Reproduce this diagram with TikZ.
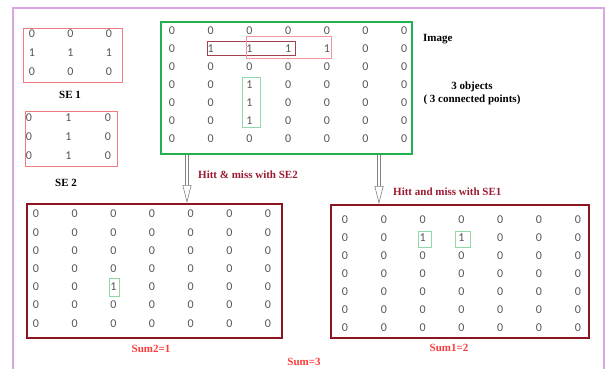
\documentclass[tikz,border=0pt]{standalone}
\usepackage{fontspec}
\setmainfont{Liberation Serif}
\newfontfamily\numfont{Carlito}
\usetikzlibrary{arrows.meta}

\definecolor{framepink}{HTML}{D9A6E3}
\definecolor{resred}{HTML}{8B1520}
\definecolor{rowred}{HTML}{A3404E}
\definecolor{labred}{HTML}{9B1B30}
\definecolor{sumred}{HTML}{FF3B3B}
\definecolor{sered}{HTML}{EE7C80}
\definecolor{imggreen}{HTML}{22B14C}
\definecolor{hitgreen}{HTML}{8FD9A8}
\definecolor{digit}{HTML}{555555}

\tikzset{
  num/.style={font=\numfont\fontsize{12}{12}\selectfont, text=digit, inner sep=0pt},
  lab/.style={font=\bfseries\fontsize{11}{13}\selectfont, inner sep=0pt},
  sebox/.style={draw=sered, line width=0.9pt, inner sep=0pt},
  resbox/.style={draw=resred, line width=2pt, inner sep=0pt},
  hollow/.style={draw=gray, line width=0.6pt, double=white, double distance=2.4pt,
    -{Triangle[open, length=18pt, width=9pt]}},
}

\begin{document}
\begin{tikzpicture}[x=1pt, y=-1pt]
  \useasboundingbox (0,0) rectangle (606,369);
  \draw[framepink, line width=1.3pt] (13,369) -- (13,8) -- (604,8) -- (604,369);

  % structuring elements
  \node[sebox, minimum width=99, minimum height=54] (se1) at (72.5,55) {};
  \foreach \row [count=\r] in {{0,0,0},{1,1,1},{0,0,0}}
    \foreach \v [count=\c] in \row
      \node[num] (se1-\r-\c) at ({32+38.5*(\c-1)},{34+19*(\r-1)}) {\v};
  \node[lab] (se1lab) at (70,95) {SE 1};

  \node[sebox, minimum width=92, minimum height=55] (se2) at (71,138.5) {};
  \foreach \row [count=\r] in {{0,1,0},{0,1,0},{0,1,0}}
    \foreach \v [count=\c] in \row
      \node[num] (se2-\r-\c) at ({29+39.5*(\c-1)},{118+19*(\r-1)}) {\v};
  \node[lab] (se2lab) at (66,183) {SE 2};

  % input image
  \node[draw=imggreen, line width=1.6pt, minimum width=251, minimum height=132] (image) at (286.5,88) {};
  \foreach \row [count=\r] in {{0,0,0,0,0,0,0},{0,1,1,1,1,0,0},{0,0,0,0,0,0,0},
      {0,0,1,0,0,0,0},{0,0,1,0,0,0,0},{0,0,1,0,0,0,0},{0,0,0,0,0,0,0}}
    \foreach \v [count=\c] in \row
      \node[num] (img-\r-\c) at ({172+38.7*(\c-1)},{30.5+17.95*(\r-1)}) {\v};
  \draw[rowred, line width=0.8pt] (207,41) rectangle (295,55);
  \draw[sered!80, line width=0.9pt] (246,36) rectangle (331,58);
  \draw[hitgreen, line width=0.9pt] (242,77) rectangle (260,127);

  \node[lab, anchor=west] (imglab) at (423,39) {Image};
  \node[lab, align=center] (objlab) at (472,93) {3 objects\\( 3 connected points)};

  % results
  \node[resbox, minimum width=255, minimum height=134] (res2) at (154.5,271) {};
  \foreach \row [count=\r] in {{0,0,0,0,0,0,0},{0,0,0,0,0,0,0},{0,0,0,0,0,0,0},
      {0,0,0,0,0,0,0},{0,0,1,0,0,0,0},{0,0,0,0,0,0,0},{0,0,0,0,0,0,0}}
    \foreach \v [count=\c] in \row
      \node[num] (r2-\r-\c) at ({36+38.67*(\c-1)},{214+18.2*(\r-1)}) {\v};
  \draw[hitgreen, line width=0.9pt] (109,278) rectangle (119,296);

  \node[resbox, minimum width=258, minimum height=133] (res1) at (460,271.5) {};
  \foreach \row [count=\r] in {{0,0,0,0,0,0,0},{0,0,1,1,0,0,0},{0,0,0,0,0,0,0},
      {0,0,0,0,0,0,0},{0,0,0,0,0,0,0},{0,0,0,0,0,0,0},{0,0,0,0,0,0,0}}
    \foreach \v [count=\c] in \row
      \node[num] (r1-\r-\c) at ({345+38.8*(\c-1)},{220+18*(\r-1)}) {\v};
  \draw[hitgreen, line width=0.9pt] (418,231) rectangle (431,247);
  \draw[hitgreen, line width=0.9pt] (455,231) rectangle (470,247);

  % arrows
  \coordinate (a2) at (187,0);
  \coordinate (a1) at (379,0);
  \draw[hollow] (image.south -| a2) -- (res2.north -| a2);
  \draw[hollow] (image.south -| a1) -- (res1.north -| a1);
  \node[lab, text=labred, anchor=west] (hm2) at (198,175) {Hitt \& miss with SE2};
  \node[lab, text=labred, anchor=west] (hm1) at (393,192) {Hitt and miss with SE1};

  \node[lab, text=sumred] (sum2) at (151,349) {Sum2=1};
  \node[lab, text=sumred] (sum1) at (449,348) {Sum1=2};
  \node[lab, text=sumred] (sum) at (304,362) {Sum=3};
\end{tikzpicture}
\end{document}
